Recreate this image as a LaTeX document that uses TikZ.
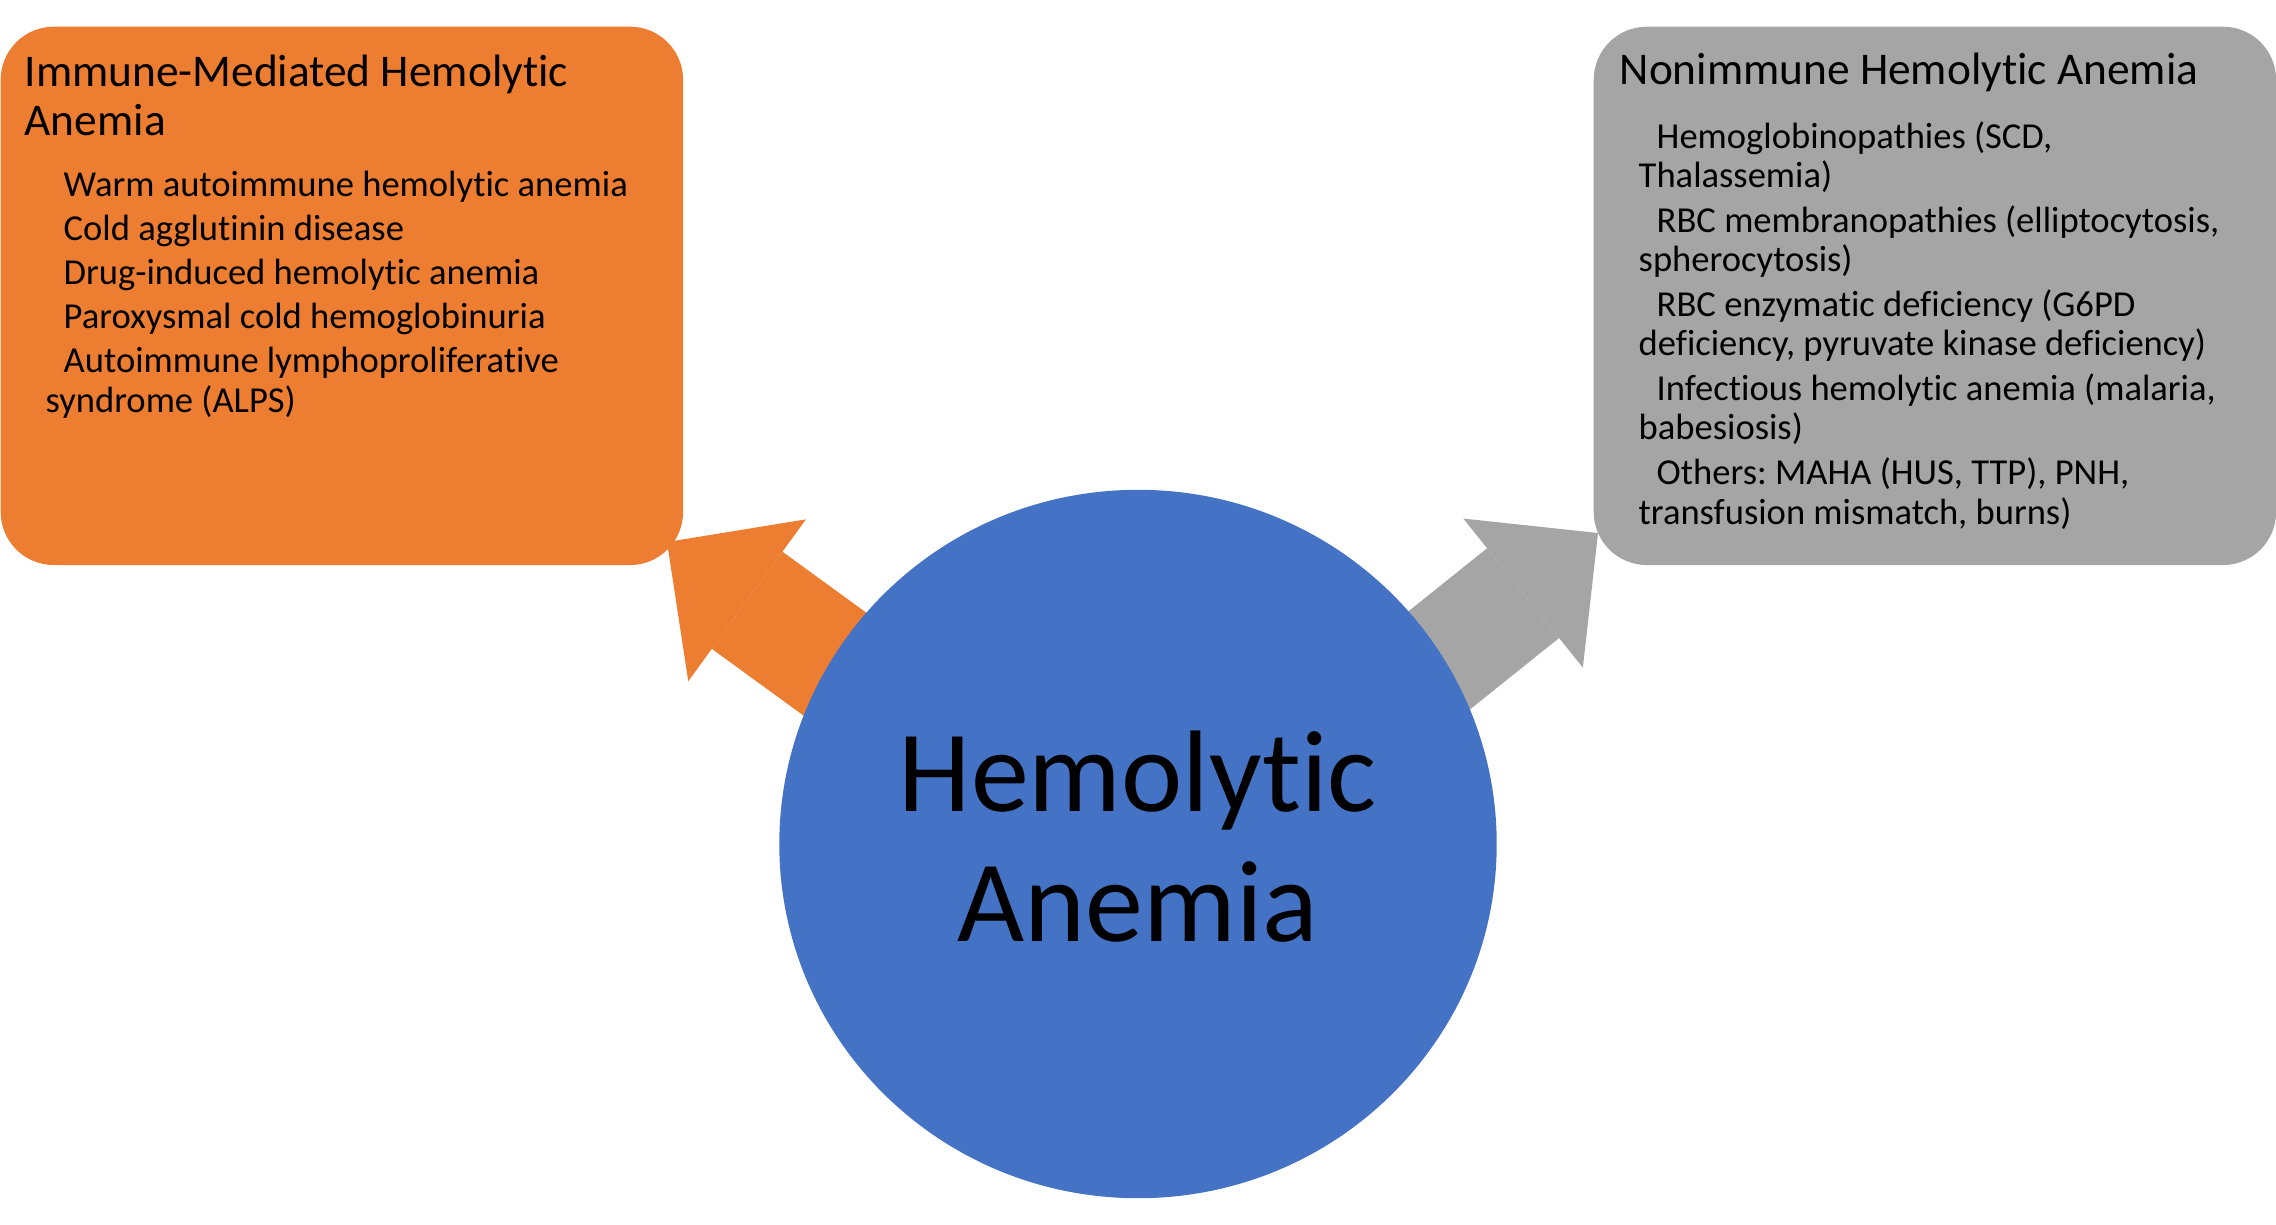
\documentclass[tikz,border=0pt]{standalone}
\usepackage{fontspec}
\setmainfont{Carlito}[Ligatures=NoCommon]
\frenchspacing
\usetikzlibrary{arrows.meta,shapes.geometric}
\definecolor{immunefill}{HTML}{ED7D31}
\definecolor{nonimmunefill}{HTML}{A5A5A5}
\definecolor{hubfill}{HTML}{4472C4}
\tikzset{
    catbox/.style={rounded corners=0.53cm, minimum width=6.82cm, minimum height=5.38cm, anchor=north west, inner sep=0pt},
    cattitle/.style={anchor=base west, align=left, inner sep=0pt, font=\fontsize{12.9pt}{13.9pt}\selectfont},
    catlist/.style={anchor=base west, align=left, inner sep=0pt, font=\fontsize{10.4pt}{11.1pt}\selectfont},
    flowarrow/.style args={#1/#2/#3}{line width=#1, -{Triangle[width=#2, length=#3, line width=0pt]}}
}
\begin{document}
\begin{tikzpicture}[x=0.01cm, y=-0.01cm]
    \useasboundingbox (0,0) rectangle (2276,1224);
    % the two groups
    \node [catbox, fill=immunefill] (immune) at (0,26) {};
    \node [catbox, fill=nonimmunefill] (nonimmune) at (1593,26) {};
    % block arrows, tails hidden under the hub
    \coordinate (immunetail) at (876,694);
    \coordinate (immunetip) at (667,542);
    \coordinate (nonimmunetail) at (1396,695);
    \coordinate (nonimmunetip) at (1598,533);
    \draw [immunefill, flowarrow=1.2cm/2.0cm/0.99cm] (immunetail) -- (immunetip);
    \draw [nonimmunefill, flowarrow=1.15cm/1.91cm/0.96cm] (nonimmunetail) -- (nonimmunetip);
    % hub
    \node [ellipse, fill=hubfill, inner sep=0pt, minimum width=7.17cm, minimum height=7.08cm] (hub) at (1138,844) {};
    % base anchors sit on the last line
    \node [anchor=base, align=center, inner sep=0pt, font=\fontsize{33pt}{36.8pt}\selectfont] (hubtext) at (1138,941) {Hemolytic\\Anemia};
    % texts
    \node [cattitle] (immunetitle) at (24,135) {Immune-Mediated Hemolytic\\Anemia};
    \node [catlist] (immunelist) at (45,412) {%
        \hspace*{0.18cm}Warm autoimmune hemolytic anemia\\[0.05cm]
        \hspace*{0.18cm}Cold agglutinin disease\\[0.05cm]
        \hspace*{0.18cm}Drug-induced hemolytic anemia\\[0.05cm]
        \hspace*{0.18cm}Paroxysmal cold hemoglobinuria\\[0.05cm]
        \hspace*{0.18cm}Autoimmune lymphoproliferative\\
        syndrome (ALPS)};
    \node [cattitle] (nonimmunetitle) at (1619,84) {Nonimmune Hemolytic Anemia};
    \node [catlist] (nonimmunelist) at (1638,524) {%
        \hspace*{0.18cm}Hemoglobinopathies (SCD,\\
        Thalassemia)\\[0.06cm]
        \hspace*{0.18cm}RBC membranopathies (elliptocytosis,\\
        spherocytosis)\\[0.06cm]
        \hspace*{0.18cm}RBC enzymatic deficiency (G6PD\\
        deficiency, pyruvate kinase deficiency)\\[0.06cm]
        \hspace*{0.18cm}Infectious hemolytic anemia (malaria,\\
        babesiosis)\\[0.06cm]
        \hspace*{0.18cm}Others: MAHA (HUS, TTP), PNH,\\
        transfusion mismatch, burns)};
\end{tikzpicture}
\end{document}
